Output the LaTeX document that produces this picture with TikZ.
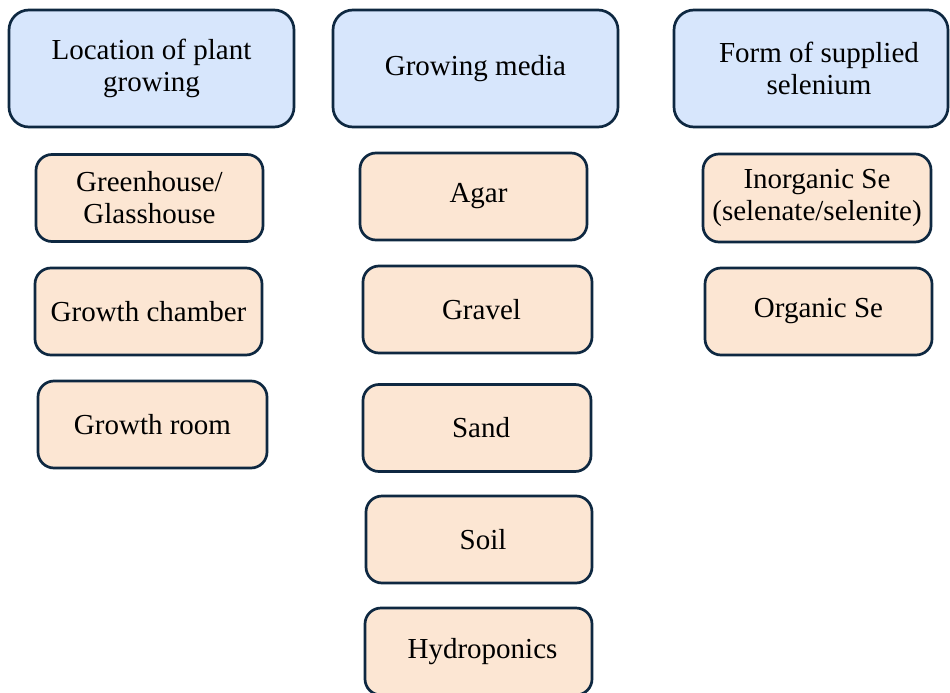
\documentclass[tikz,border=0pt]{standalone}
\usepackage{fontspec}
\setmainfont{Liberation Serif}
\newfontfamily\tnrfont{Liberation Serif}
\definecolor{edgec}{HTML}{0E2841}
\definecolor{headfill}{HTML}{D7E6FC}
\definecolor{itemfill}{HTML}{FCE6D3}
\tikzset{
  base/.style={draw=edgec, line width=2.7pt, inner sep=0pt, align=center,
    font=\tnrfont\fontsize{29}{32}\selectfont},
  headbox/.style={base, fill=headfill, rounded corners=20pt, minimum height=117pt},
  itembox/.style={base, fill=itemfill, rounded corners=16pt, minimum width=227pt, minimum height=87pt},
}
\begin{document}
\begin{tikzpicture}[x=1pt,y=-1pt]
\useasboundingbox (0,0) rectangle (950,693);
\fill[white] (0,0) rectangle (950,693);
% headers
\node[headbox, minimum width=285pt] (h1) at (151.5,68.5) {Location of plant\\growing};
\node[headbox, minimum width=285pt] (h2) at (475.5,68.5) {Growing media};
\node[headbox, minimum width=274pt] (h3) at (811,68.5) {\hspace*{16pt}Form of supplied\\\hspace*{16pt}selenium};
% column 1
\node[itembox] (gh) at (149.5,198) {Greenhouse/\\Glasshouse};
\node[itembox] (gc) at (148.5,311.5) {Growth chamber};
\node[itembox, minimum width=229pt] (gr) at (152.5,424.5) {Growth room};
% column 2
\node[itembox] (agar) at (473.5,196.5) {\hspace*{10pt}Agar};
\node[itembox, minimum width=229pt] (gravel) at (477.5,309.5) {\hspace*{8pt}Gravel};
\node[itembox, minimum width=228pt] (sand) at (477,428) {\hspace*{8pt}Sand};
\node[itembox, minimum width=226pt] (soil) at (479,539.5) {\hspace*{8pt}Soil};
\node[itembox] (hydro) at (478.5,651.5) {\hspace*{8pt}Hydroponics};
% column 3
\node[itembox, minimum width=228pt, minimum height=88pt] (inorg) at (817,198) {Inorganic Se\\(selenate/selenite)};
\node[itembox] (org) at (818.5,311.5) {Organic Se};
\end{tikzpicture}
\end{document}
